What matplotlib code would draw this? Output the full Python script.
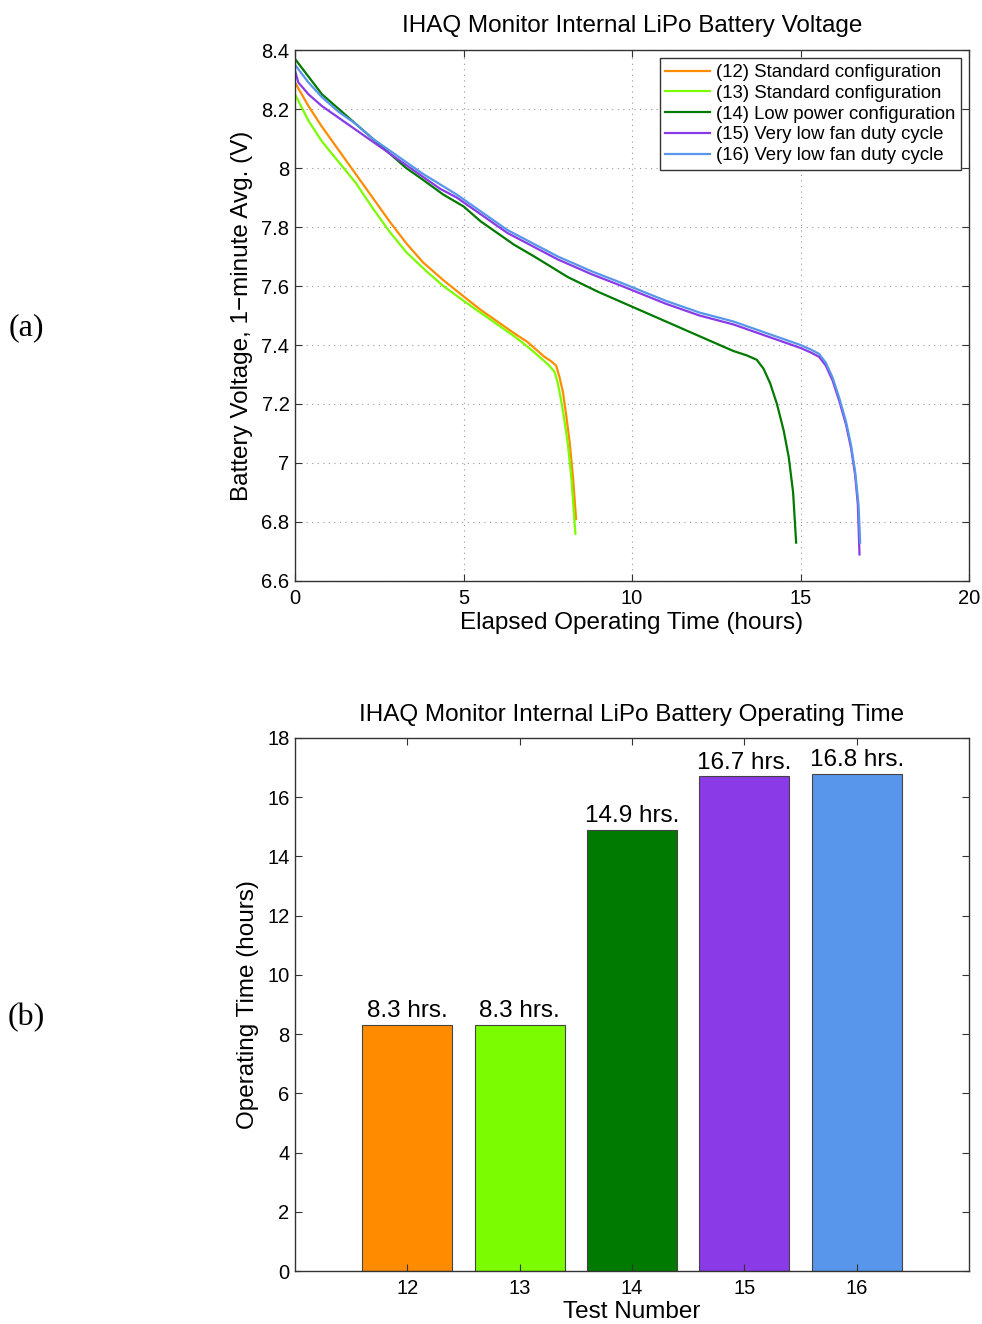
import matplotlib
matplotlib.use('Agg')
import matplotlib.pyplot as plt

plt.rcParams['font.family'] = ['Liberation Sans', 'DejaVu Sans']

# --- discharge curves ---
t12 = [0, 0.4, 0.8, 1.3, 1.8, 2.3, 2.8, 3.3, 3.8, 4.4, 5.0, 5.5, 6.0, 6.5, 6.9, 7.2,
       7.4, 7.6, 7.75, 7.85, 7.95, 8.05, 8.15, 8.25, 8.34]
v12 = [8.29, 8.21, 8.14, 8.06, 7.98, 7.90, 7.82, 7.745, 7.68, 7.62, 7.565, 7.52, 7.48, 7.44, 7.41, 7.38,
       7.36, 7.345, 7.33, 7.29, 7.24, 7.16, 7.07, 6.95, 6.81]

t13 = [0, 0.4, 0.8, 1.3, 1.8, 2.3, 2.8, 3.3, 3.9, 4.4, 5.0, 5.5, 6.0, 6.5, 7.0, 7.3,
       7.5, 7.7, 7.8, 7.9, 8.0, 8.1, 8.2, 8.32]
v13 = [8.25, 8.16, 8.09, 8.02, 7.95, 7.865, 7.785, 7.715, 7.65, 7.60, 7.55, 7.51, 7.47, 7.43, 7.385, 7.355,
       7.335, 7.31, 7.27, 7.21, 7.14, 7.06, 6.95, 6.76]

t14 = [0, 0.4, 0.8, 1.3, 1.8, 2.3, 2.8, 3.3, 3.8, 4.4, 5.0, 5.5, 6.0, 6.5, 7.1, 8.1, 9.0, 10.0,
       11.0, 12.0, 13.0, 13.4, 13.7, 13.9, 14.1, 14.3, 14.5, 14.65, 14.78, 14.87]
v14 = [8.37, 8.31, 8.25, 8.20, 8.15, 8.10, 8.05, 8.00, 7.96, 7.91, 7.87, 7.82, 7.78, 7.74, 7.70, 7.63,
       7.58, 7.53, 7.48, 7.43, 7.38, 7.365, 7.35, 7.32, 7.27, 7.20, 7.11, 7.02, 6.90, 6.73]

t15 = [0, 0.1, 0.4, 0.8, 1.3, 1.8, 2.3, 2.8, 3.3, 3.8, 4.3, 4.8, 5.3, 5.8, 6.3, 6.8, 7.3, 7.8,
       8.8, 9.7, 11.0, 12.0, 13.0, 14.0, 15.0, 15.3, 15.55, 15.75, 15.95, 16.15, 16.35,
       16.5, 16.62, 16.7, 16.75]
v15 = [8.33, 8.29, 8.25, 8.21, 8.17, 8.13, 8.09, 8.05, 8.01, 7.97, 7.93, 7.90, 7.86, 7.82, 7.78, 7.75,
       7.72, 7.69, 7.64, 7.60, 7.54, 7.50, 7.47, 7.43, 7.39, 7.375, 7.36, 7.33, 7.28, 7.21, 7.13,
       7.05, 6.96, 6.86, 6.69]

t16 = [0, 0.4, 0.8, 1.3, 1.8, 2.3, 2.8, 3.3, 3.8, 4.3, 4.8, 5.3, 5.8, 6.3, 6.8, 7.3, 7.8,
       8.8, 9.7, 11.0, 12.0, 13.0, 14.0, 15.0, 15.3, 15.55, 15.75, 15.95, 16.15, 16.35,
       16.5, 16.62, 16.72, 16.77]
v16 = [8.35, 8.29, 8.24, 8.19, 8.15, 8.10, 8.06, 8.02, 7.98, 7.945, 7.91, 7.87, 7.83, 7.79, 7.76, 7.73,
       7.70, 7.65, 7.61, 7.55, 7.51, 7.48, 7.44, 7.40, 7.385, 7.37, 7.34, 7.29, 7.22, 7.14,
       7.06, 6.97, 6.86, 6.73]

labels = ['(12) Standard configuration', '(13) Standard configuration',
          '(14) Low power configuration', '(15) Very low fan duty cycle',
          '(16) Very low fan duty cycle']
colors = ['#FF8C00', '#7CFC00', '#007A00', '#8A3AE6', '#5796EA']

# --- panel (b) ---
tests = [12, 13, 14, 15, 16]
op_hours = [8.3, 8.3, 14.9, 16.7, 16.8]
bar_text = ['8.3 hrs.', '8.3 hrs.', '14.9 hrs.', '16.7 hrs.', '16.8 hrs.']

fig = plt.figure(figsize=(9.82, 13.24), dpi=100)
ax1 = fig.add_axes([0.3004, 0.5612, 0.6864, 0.4010])
ax2 = fig.add_axes([0.3004, 0.0400, 0.6864, 0.4026])

edge = '#333333'

def matlab_box(ax):
    for s in ax.spines.values():
        s.set_color(edge)
        s.set_linewidth(1.0)
    ax.tick_params(direction='in', top=True, right=True, length=5,
                   color=edge, labelsize=14.5, pad=6)
    ax.tick_params(axis='y', pad=4)

# --- voltage subplot ---
curves = [(t12, v12), (t13, v13), (t14, v14), (t15, v15), (t16, v16)]
for (t, v), c, lab in zip(curves, colors, labels):
    ax1.plot(t, v, color=c, lw=1.6, label=lab)
ax1.set_xlim(0, 20)
ax1.set_ylim(6.6, 8.4)
ax1.set_xticks([0, 5, 10, 15, 20])
ax1.set_yticks([6.6, 6.8, 7, 7.2, 7.4, 7.6, 7.8, 8, 8.2, 8.4])
ax1.set_yticklabels(['6.6', '6.8', '7', '7.2', '7.4', '7.6', '7.8', '8', '8.2', '8.4'])
ax1.grid(True, linestyle=(0, (1, 4)), color='#999999', linewidth=0.8)
matlab_box(ax1)
ax1.set_title('IHAQ Monitor Internal LiPo Battery Voltage', fontsize=17.5, pad=13)
ax1.set_xlabel('Elapsed Operating Time (hours)', fontsize=17.5, labelpad=3)
ax1.set_ylabel('Battery Voltage, 1\u2212minute Avg. (V)', fontsize=17.5, labelpad=6)
leg = ax1.legend(loc='upper right', fontsize=13.4, fancybox=False, framealpha=1,
                 edgecolor=edge, handlelength=2.4, labelspacing=0.2,
                 borderpad=0.3, handletextpad=0.3, borderaxespad=0.45)
leg.get_frame().set_linewidth(1.0)

# --- operating time subplot ---
bars = ax2.bar(tests, op_hours, width=0.8, color=colors, edgecolor='#444444', linewidth=0.8)
for b, txt in zip(bars, bar_text):
    ax2.text(b.get_x() + b.get_width() / 2, b.get_height() + 0.1, txt,
             ha='center', va='bottom', fontsize=17.5)
ax2.set_xlim(11, 17)
ax2.set_ylim(0, 18)
ax2.set_xticks(tests)
ax2.set_yticks(range(0, 19, 2))
matlab_box(ax2)
ax2.set_title('IHAQ Monitor Internal LiPo Battery Operating Time', fontsize=17.5, pad=12)
ax2.set_xlabel('Test Number', fontsize=17.5, labelpad=2)
ax2.set_ylabel('Operating Time (hours)', fontsize=17.5, labelpad=6)

fig.text(0.027, 1 - 328 / 1324, '(a)', family='Liberation Serif', fontsize=23,
         ha='center', va='center')
fig.text(0.027, 1 - 1018 / 1324, '(b)', family='Liberation Serif', fontsize=23,
         ha='center', va='center')

plt.savefig('out.png', dpi=100)
